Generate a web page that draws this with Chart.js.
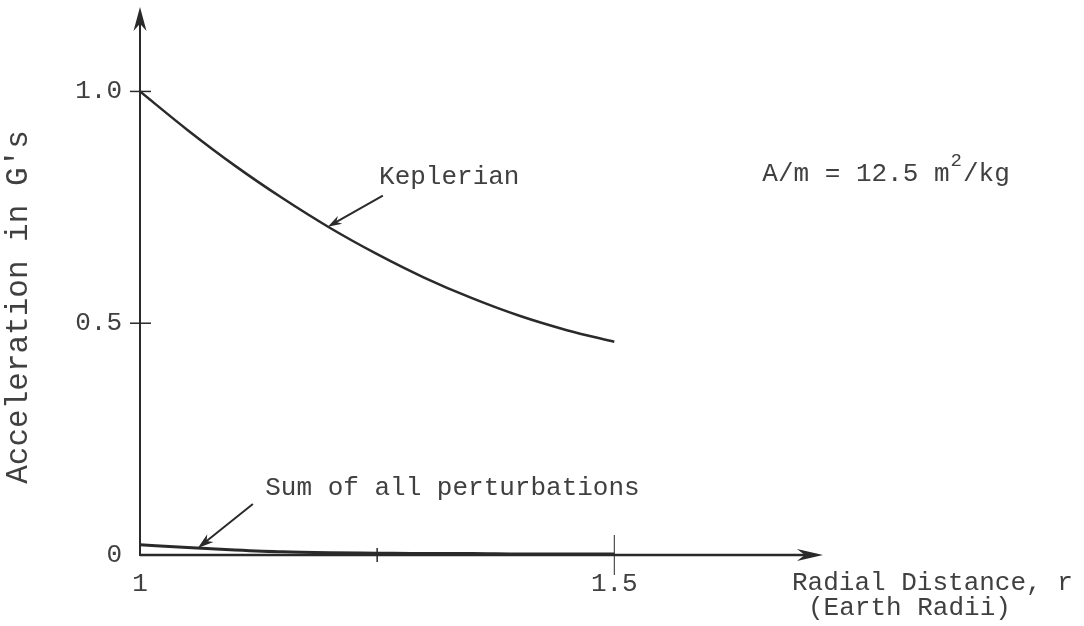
<!DOCTYPE html>
<html>
<head>
<meta charset="utf-8">
<script src="https://cdn.jsdelivr.net/npm/chart.js@4.4.1/dist/chart.umd.min.js"></script>
<style>
  html, body { margin: 0; padding: 0; background: #fff; }
  #wrap { width: 1084px; height: 626px; }
</style>
</head>
<body>
<div id="wrap"><canvas id="chart" width="1084" height="626"></canvas></div>
<script>
// radial distance in earth radii
const radii = [1.0, 1.05, 1.1, 1.15, 1.2, 1.25, 1.3, 1.35, 1.4, 1.45, 1.5];
// acceleration in G's
const keplerian = [1.0, 0.917, 0.84, 0.77, 0.706, 0.649, 0.598, 0.554, 0.516, 0.485, 0.46];
const perturbations = [0.022, 0.016, 0.011, 0.007, 0.005, 0.004, 0.003, 0.003, 0.002, 0.002, 0.002];

const yTicks = [0, 0.5, 1.0];
const xTicks = [1, 1.25, 1.5];
const xTickLabels = ['1', '', '1.5'];

const FONT = '"Liberation Mono", "DejaVu Sans Mono", monospace';
const INK = '#2a2a2a';
const TEXT = '#404040';

function pts(xs, ys) {
  return xs.map((x, i) => ({ x, y: ys[i] }));
}

function arrow(ctx, x1, y1, x2, y2, headLen, headW) {
  const a = Math.atan2(y2 - y1, x2 - x1);
  ctx.beginPath();
  ctx.moveTo(x1, y1);
  ctx.lineTo(x2 - Math.cos(a) * headLen * 0.6, y2 - Math.sin(a) * headLen * 0.6);
  ctx.stroke();
  ctx.beginPath();
  ctx.moveTo(x2, y2);
  ctx.lineTo(x2 - Math.cos(a) * headLen + Math.sin(a) * headW / 2, y2 - Math.sin(a) * headLen - Math.cos(a) * headW / 2);
  ctx.lineTo(x2 - Math.cos(a) * headLen * 0.7, y2 - Math.sin(a) * headLen * 0.7);
  ctx.lineTo(x2 - Math.cos(a) * headLen - Math.sin(a) * headW / 2, y2 - Math.sin(a) * headLen + Math.cos(a) * headW / 2);
  ctx.closePath();
  ctx.fill();
}

const decor = {
  id: 'decor',
  beforeDatasetsDraw(chart) {
    const { ctx, chartArea: ca, scales: { x, y } } = chart;
    ctx.save();
    ctx.strokeStyle = INK;
    ctx.fillStyle = INK;

    // axes with arrow heads
    ctx.lineWidth = 2;
    arrow(ctx, ca.left, ca.bottom + 1, ca.left, ca.top - 1, 24, 13);
    ctx.lineWidth = 2.5;
    arrow(ctx, ca.left, ca.bottom, ca.right, ca.bottom, 26, 12);

    // tick marks crossing the axes
    ctx.lineWidth = 1.5;
    yTicks.slice(1).forEach(v => {
      const py = y.getPixelForValue(v);
      ctx.beginPath();
      ctx.moveTo(ca.left - 10, py);
      ctx.lineTo(ca.left + 11, py);
      ctx.stroke();
    });
    const pm = x.getPixelForValue(xTicks[1]);
    ctx.beginPath();
    ctx.moveTo(pm, ca.bottom - 7);
    ctx.lineTo(pm, ca.bottom + 7);
    ctx.stroke();
    const pe = x.getPixelForValue(xTicks[2]);
    ctx.lineWidth = 1;
    ctx.beginPath();
    ctx.moveTo(pe, ca.bottom - 20);
    ctx.lineTo(pe, ca.bottom + 20);
    ctx.stroke();
    ctx.restore();
  },
  afterDraw(chart) {
    const { ctx, chartArea: ca, scales: { x, y } } = chart;
    ctx.save();
    ctx.strokeStyle = INK;
    ctx.fillStyle = INK;
    ctx.lineWidth = 2;

    // pointer arrows
    arrow(ctx, x.getPixelForValue(1.256), y.getPixelForValue(0.775),
      x.getPixelForValue(1.198), y.getPixelForValue(0.708), 14, 9);
    arrow(ctx, x.getPixelForValue(1.119), y.getPixelForValue(0.110),
      x.getPixelForValue(1.061), y.getPixelForValue(0.015), 16, 10);

    // labels
    ctx.fillStyle = TEXT;
    ctx.font = '26px ' + FONT;
    ctx.textBaseline = 'middle';
    ctx.textAlign = 'left';
    ctx.fillText('Keplerian', x.getPixelForValue(1.252), y.getPixelForValue(0.816));
    ctx.fillText('Sum of all perturbations', x.getPixelForValue(1.132), y.getPixelForValue(0.145));

    const ax = x.getPixelForValue(1.656);
    const ay = y.getPixelForValue(0.821);
    const head = 'A/m = 12.5 m';
    ctx.fillText(head, ax, ay);
    let w = ctx.measureText(head).width;
    ctx.font = '19px ' + FONT;
    ctx.fillText('2', ax + w + 1, ay - 13);
    w += ctx.measureText('2').width + 2;
    ctx.font = '26px ' + FONT;
    ctx.fillText('/kg', ax + w, ay);

    // axis titles
    ctx.fillText('Radial Distance, r', ca.right - 31, ca.bottom + 28);
    ctx.fillText('(Earth Radii)', ca.right - 15, ca.bottom + 53);

    ctx.save();
    ctx.translate(19, 307);
    ctx.rotate(-Math.PI / 2);
    ctx.textAlign = 'center';
    ctx.font = '31px ' + FONT;
    ctx.fillText("Acceleration in G's", 0, 0);
    ctx.restore();

    ctx.restore();
  }
};

new Chart(document.getElementById('chart'), {
  type: 'line',
  data: {
    datasets: [
      {
        label: 'Keplerian',
        data: pts(radii, keplerian),
        borderColor: INK,
        borderWidth: 2.5,
        pointRadius: 0,
        cubicInterpolationMode: 'monotone'
      },
      {
        label: 'Sum of all perturbations',
        data: pts(radii, perturbations),
        borderColor: INK,
        borderWidth: 3,
        pointRadius: 0,
        cubicInterpolationMode: 'monotone'
      }
    ]
  },
  options: {
    responsive: false,
    animation: false,
    events: [],
    layout: { padding: { left: 0, top: 8, right: 261, bottom: 0 } },
    plugins: {
      legend: { display: false },
      tooltip: { enabled: false }
    },
    scales: {
      x: {
        type: 'linear',
        min: 1,
        max: 1.72,
        afterFit: s => { s.height = 71; s.paddingLeft = 0; s.paddingRight = 0; },
        afterBuildTicks: s => { s.ticks = xTicks.map(v => ({ value: v })); },
        grid: { display: false, drawTicks: false },
        border: { display: false },
        ticks: {
          padding: 14,
          color: TEXT,
          font: { family: FONT, size: 26 },
          maxRotation: 0,
          autoSkip: false,
          callback: (v, i) => xTickLabels[i]
        }
      },
      y: {
        type: 'linear',
        min: 0,
        max: 1.18,
        afterFit: s => { s.width = 140; s.paddingTop = 0; s.paddingBottom = 0; },
        afterBuildTicks: s => { s.ticks = yTicks.map(v => ({ value: v })); },
        grid: { display: false, drawTicks: false },
        border: { display: false },
        ticks: {
          padding: 18,
          color: TEXT,
          font: { family: FONT, size: 26 },
          callback: v => v === 0 ? '0' : v.toFixed(1)
        }
      }
    }
  },
  plugins: [decor]
});
</script>
</body>
</html>
